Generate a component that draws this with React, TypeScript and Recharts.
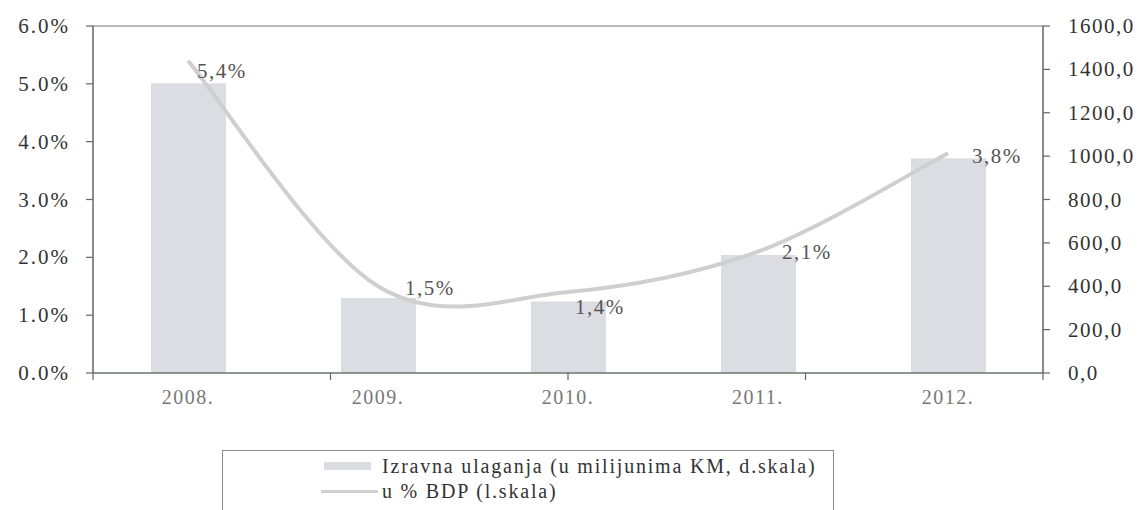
import React from 'react';
import {
  ComposedChart,
  Bar,
  Line,
  XAxis,
  YAxis,
  ReferenceLine,
  LabelList,
  Legend,
} from 'recharts';

// Direct investment in BiH, 2008–2012
const years = ['2008.', '2009.', '2010.', '2011.', '2012.'];
const investment = [1336, 346, 330, 544, 990]; // mil. KM, right scale
const shareOfGdp = [5.4, 1.5, 1.4, 2.1, 3.8]; // % of GDP, left scale
const shareLabels = ['5,4%', '1,5%', '1,4%', '2,1%', '3,8%'];

const pctTicks = [0, 1, 2, 3, 4, 5, 6];
const kmTicks = [0, 200, 400, 600, 800, 1000, 1200, 1400, 1600];
const categoryBounds = [0, 1, 2, 3, 4, 5];

const barName = 'Izravna ulaganja (u milijunima KM, d.skala)';
const lineName = 'u % BDP (l.skala)';

// hand-placed offsets of the value labels from their line points
const labelNudges: [number, number][] = [
  [9, 10],
  [27, 2],
  [7, 15],
  [24, 0],
  [24, 3],
];

const data = years.map((year, i) => ({
  year,
  investment: investment[i],
  share: shareOfGdp[i],
}));

const FONT = '"Liberation Serif", "Times New Roman", serif';

// Spreadsheet-style smoothed line: cubic Bezier segments whose control
// points sit 1/6 of the neighbouring chord away from each point.
function smoothCurve(context: any) {
  let pts: number[][] = [];
  return {
    areaStart() {},
    areaEnd() {},
    lineStart() {
      pts = [];
    },
    point(x: number, y: number) {
      pts.push([+x, +y]);
    },
    lineEnd() {
      const n = pts.length;
      if (!n) return;
      context.moveTo(pts[0][0], pts[0][1]);
      for (let i = 0; i < n - 1; i++) {
        const p0 = pts[i - 1] || pts[i];
        const p1 = pts[i];
        const p2 = pts[i + 1];
        const p3 = pts[i + 2] || pts[i + 1];
        context.bezierCurveTo(
          p1[0] + (p2[0] - p0[0]) / 6,
          p1[1] + (p2[1] - p0[1]) / 6,
          p2[0] - (p3[0] - p1[0]) / 6,
          p2[1] - (p3[1] - p1[1]) / 6,
          p2[0],
          p2[1],
        );
      }
    },
  };
}

const LeftTick = ({ x, y, payload }: any) => (
  <text
    x={x}
    y={y}
    textAnchor="end"
    dominantBaseline="central"
    fill="#333"
    fontFamily={FONT}
    fontSize={21}
    letterSpacing={2}
  >
    {`${Number(payload.value).toFixed(1)}%`}
  </text>
);

const RightTick = ({ x, y, payload }: any) => (
  <text
    x={x}
    y={y}
    textAnchor="start"
    dominantBaseline="central"
    fill="#333"
    fontFamily={FONT}
    fontSize={21}
    letterSpacing={1.5}
  >
    {Number(payload.value).toFixed(1).replace('.', ',')}
  </text>
);

const YearTick = ({ x, y, payload }: any) => (
  <text
    x={x}
    y={y + 15}
    textAnchor="middle"
    dominantBaseline="central"
    fill="#777"
    fontFamily={FONT}
    fontSize={20}
    letterSpacing={1.5}
  >
    {payload.value}
  </text>
);

const ShareLabel = (props: any) => {
  const { x, y, index } = props;
  const [dx, dy] = labelNudges[index] || [10, 0];
  return (
    <text
      x={x + dx}
      y={y + dy}
      textAnchor="start"
      dominantBaseline="central"
      fill="#555"
      fontFamily={FONT}
      fontSize={21}
      letterSpacing={1.5}
    >
      {shareLabels[index]}
    </text>
  );
};

const LegendBox = ({ payload }: any) => (
  <div
    style={{
      boxSizing: 'border-box',
      width: 612,
      height: 70,
      border: '1px solid #8a8a8a',
      background: '#fff',
      position: 'relative',
      fontFamily: FONT,
      fontSize: 20,
      letterSpacing: 1.8,
      color: '#333',
    }}
  >
    {(payload || []).map((entry: any, i: number) => {
      const cy = i === 0 ? 15 : 40;
      const isLine = entry.type === 'line';
      return (
        <div key={i}>
          {isLine ? (
            <div
              style={{
                position: 'absolute',
                left: 98,
                top: cy - 1.5,
                width: 57,
                height: 3,
                background: '#cfcfcf',
              }}
            />
          ) : (
            <div
              style={{
                position: 'absolute',
                left: 101,
                top: cy - 4,
                width: 47,
                height: 8,
                background: '#dcdce3',
              }}
            />
          )}
          <div
            style={{
              position: 'absolute',
              left: 159,
              top: cy - 12,
              height: 24,
              lineHeight: '24px',
              whiteSpace: 'nowrap',
            }}
          >
            {entry.value}
          </div>
        </div>
      );
    })}
  </div>
);

export default function App() {
  return (
    <div style={{ position: 'absolute', left: 0, top: 0, background: '#fff' }}>
      <ComposedChart
        width={1143}
        height={510}
        data={data}
        margin={{ top: 26, right: 0, bottom: 96, left: 0 }}
      >
        {/* baseline with tick marks on the category boundaries */}
        <XAxis
          xAxisId="bounds"
          type="number"
          domain={[0, 5]}
          allowDataOverflow
          ticks={categoryBounds}
          height={1}
          axisLine={{ stroke: '#66786f', strokeWidth: 1.5 }}
          tickSize={7}
          tickLine={{ stroke: '#666', strokeWidth: 1.2 }}
          tick={() => <g />}
        />
        <XAxis
          xAxisId="cat"
          dataKey="year"
          height={40}
          axisLine={false}
          tickLine={false}
          tick={<YearTick />}
          interval={0}
        />
        <YAxis
          yAxisId="pct"
          orientation="left"
          width={93}
          domain={[0, 6]}
          ticks={pctTicks}
          axisLine={{ stroke: '#666', strokeWidth: 1.5 }}
          tickLine={{ stroke: '#666', strokeWidth: 1.2 }}
          tickSize={7}
          tickMargin={16}
          tick={<LeftTick />}
        />
        <YAxis
          yAxisId="km"
          orientation="right"
          width={100}
          domain={[0, 1600]}
          ticks={kmTicks}
          axisLine={{ stroke: '#666', strokeWidth: 1.5 }}
          tickLine={{ stroke: '#666', strokeWidth: 1.2 }}
          tickSize={7}
          tickMargin={18}
          tick={<RightTick />}
        />
        <ReferenceLine
          yAxisId="pct"
          xAxisId="cat"
          y={6}
          stroke="#777"
          strokeWidth={1.2}
        />
        <Bar
          xAxisId="cat"
          yAxisId="km"
          dataKey="investment"
          name={barName}
          fill="#dcdce3"
          barSize={75}
          isAnimationActive={false}
          legendType="rect"
        />
        <Line
          xAxisId="cat"
          yAxisId="pct"
          dataKey="share"
          name={lineName}
          type={smoothCurve as any}
          stroke="#cfcfcf"
          strokeWidth={4}
          dot={false}
          activeDot={false}
          isAnimationActive={false}
          legendType="line"
        >
          <LabelList dataKey="share" content={<ShareLabel />} />
        </Line>
        <Legend
          layout="vertical"
          align="center"
          verticalAlign="middle"
          wrapperStyle={{ top: 450, left: 222, width: 612, height: 70 }}
          content={<LegendBox />}
        />
      </ComposedChart>
    </div>
  );
}
